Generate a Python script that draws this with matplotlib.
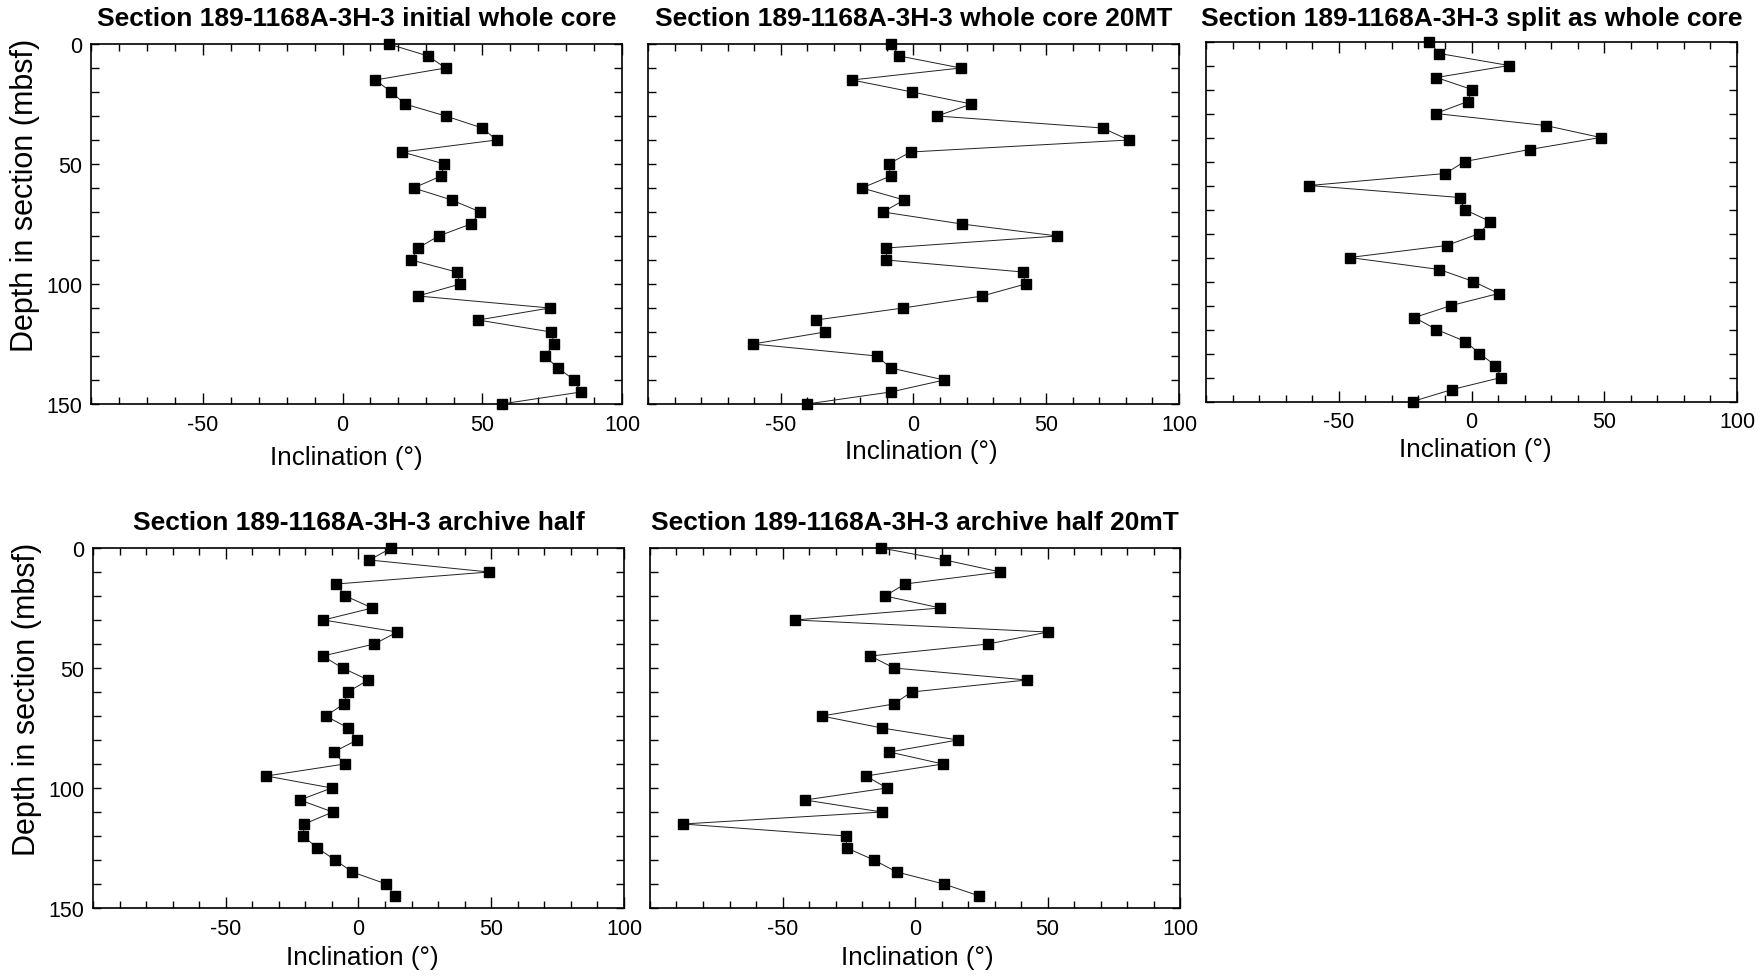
import matplotlib
matplotlib.use("Agg")
import matplotlib.pyplot as plt
from matplotlib.ticker import MultipleLocator, FixedLocator

plt.rcParams['font.family'] = ['Liberation Sans', 'DejaVu Sans']
plt.rcParams['axes.unicode_minus'] = False

# ---- data ----
depth_31 = [0, 5, 10, 15, 20, 25, 30, 35, 40, 45, 50, 55, 60, 65, 70, 75,
            80, 85, 90, 95, 100, 105, 110, 115, 120, 125, 130, 135, 140, 145, 150]
depth_30 = [0, 5, 10, 15, 20, 25, 30, 35, 40, 45, 50, 55, 60, 65, 70, 75,
            80, 85, 90, 95, 100, 105, 110, 115, 120, 125, 130, 135, 140, 145]

inc_initial = [16.5, 30.6, 36.9, 11.7, 17.5, 22.3, 36.9, 50.0, 55.1, 21.4,
               36.4, 35.3, 25.4, 39.1, 49.3, 45.9, 34.4, 27.0, 24.6, 40.8,
               42.1, 27.0, 74.2, 48.5, 74.6, 75.8, 72.4, 77.1, 82.9, 85.3, 56.9]
inc_whole20 = [-8.4, -5.3, 17.8, -23.2, -0.5, 21.8, 8.9, 71.2, 81.1, -1.1,
               -9.4, -8.6, -19.4, -3.5, -11.5, 18.2, 54.2, -10.2, -10.2, 41.2,
               42.2, 25.9, -3.9, -36.7, -33.3, -60.5, -13.7, -8.6, 11.6, -8.6, -40.2]
inc_split = [-16.1, -12.1, 14.1, -13.2, 0.1, -1.4, -13.5, 27.9, 48.6, 21.9,
             -2.6, -9.8, -61.1, -4.4, -2.6, 7.0, 3.0, -9.4, -45.9, -12.1,
             0.7, 10.2, -7.6, -21.5, -13.2, -2.3, 3.0, 9.0, 11.2, -7.3, -22.2]
inc_archive = [12.4, 4.1, 49.2, -8.4, -4.9, 5.2, -13.2, 14.6, 6.0, -13.5,
               -6.0, 3.7, -4.1, -5.5, -12.4, -3.8, -0.5, -9.4, -5.2, -34.7,
               -10.1, -22.1, -9.7, -20.4, -20.9, -15.5, -8.8, -2.3, 10.4, 13.8]
inc_archive20 = [-12.7, 11.3, 32.2, -3.8, -11.3, 9.6, -45.3, 50.1, 27.6, -16.8,
                 -8.0, 42.2, -1.3, -8.0, -35.2, -12.5, 16.2, -9.7, 10.5, -18.5,
                 -10.6, -41.5, -12.5, -87.6, -26.0, -25.7, -15.5, -6.9, 10.9, 24.3]

titles = ["Section 189-1168A-3H-3 initial whole core",
          "Section 189-1168A-3H-3 whole core 20MT",
          "Section 189-1168A-3H-3 split as whole core",
          "Section 189-1168A-3H-3 archive half",
          "Section 189-1168A-3H-3 archive half 20mT"]
xlabel = "Inclination (°)"
ylabel = "Depth in section (mbsf)"
x_major = [-50, 0, 50, 100]
y_major = [0, 50, 100, 150]

W, H = 1765, 978
fig = plt.figure(figsize=(W / 100, H / 100), dpi=100)


def box(l, r, t, b):
    return [l / W, (H - b) / H, (r - l) / W, (b - t) / H]


panels = [
    dict(rect=box(91, 622, 45, 405), x=inc_initial, d=depth_31, xlim=(-90, 100),
         ylab=True, xl=(0.48, -0.147), ty=1.072),
    dict(rect=box(648, 1179, 45, 405), x=inc_whole20, d=depth_31, xlim=(-100, 100),
         ylab=False, xl=(0.514, -0.131), ty=1.072),
    dict(rect=box(1206, 1737, 42.5, 402.5), x=inc_split, d=depth_31, xlim=(-100, 100),
         ylab=False, xl=(0.507, -0.132), ty=1.065),
    dict(rect=box(93, 624, 549, 909), x=inc_archive, d=depth_30, xlim=(-100, 100),
         ylab=True, xl=(0.508, -0.136), ty=1.072),
    dict(rect=box(650, 1180, 549, 909), x=inc_archive20, d=depth_30, xlim=(-100, 100),
         ylab=False, xl=(0.504, -0.136), ty=1.072),
]

for p, title in zip(panels, titles):
    ax = fig.add_axes(p["rect"])
    ax.plot(p["x"], p["d"], color="#222222", linewidth=0.7, marker="s",
            markersize=7, markerfacecolor="black", markeredgecolor="black",
            clip_on=False, zorder=3)
    ax.set_xlim(*p["xlim"])
    ax.set_ylim(150, 0)
    ax.xaxis.set_major_locator(FixedLocator(x_major))
    ax.xaxis.set_minor_locator(MultipleLocator(10))
    ax.yaxis.set_major_locator(FixedLocator(y_major))
    ax.yaxis.set_minor_locator(MultipleLocator(10))
    ax.tick_params(axis="x", which="major", direction="in", top=True, bottom=True,
                   length=8, width=1.0, labelsize=15.5, pad=7)
    ax.tick_params(axis="x", which="minor", direction="in", top=True, bottom=True,
                   length=5, width=1.0)
    ax.tick_params(axis="y", which="both", direction="in", left=True, right=True,
                   length=6, width=1.0, labelsize=15.5, pad=6)
    for s in ax.spines.values():
        s.set_linewidth(1.2)
    if p["ylab"]:
        ax.set_ylabel(ylabel, fontsize=22)
        ax.yaxis.set_label_coords(-0.124, 0.583)
        ax.yaxis.label.set_va("center")
    else:
        ax.tick_params(axis="y", labelleft=False)
    ax.set_xlabel(xlabel, fontsize=18.8)
    ax.xaxis.set_label_coords(*p["xl"])
    ax.xaxis.label.set_va("center")
    ax.text(0.5, p["ty"], title, transform=ax.transAxes, ha="center", va="center",
            fontsize=19, fontweight="bold")

fig.savefig("out.png", dpi=100)
